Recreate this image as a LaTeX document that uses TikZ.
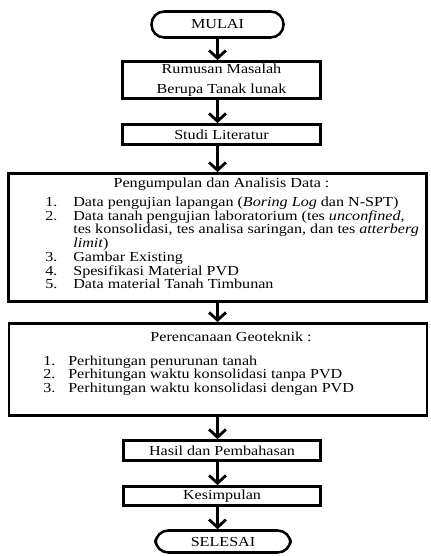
\documentclass[tikz,border=0pt]{standalone}
\usepackage{fontspec}
\setmainfont{Liberation Serif}[FakeStretch=1.17]
\usepackage{array}
\usetikzlibrary{arrows.meta}
\usetikzlibrary{positioning}
\tikzset{kotak/.style = {draw, line width=2pt, inner sep=0pt, align=center,
                         font=\fontsize{9.8}{9.7}\selectfont},
         terminal/.style = {draw, line width=1.8pt, rounded corners=0.32cm,
                            inner sep=0pt, font=\fontsize{9.8}{9.7}\selectfont},
         teks/.style = {inner sep=0pt, font=\fontsize{9.8}{9.7}\selectfont},
         panah/.style = {-{Straight Barb[length=5.5pt, width=12pt]}, line width=2pt}}

\begin{document}
\begin{tikzpicture}[x=0.025cm, y=-0.025cm]
    \useasboundingbox (0, 0) rectangle (431, 556);

    % kotak alur
    \node [terminal, minimum width=3.3cm, minimum height=0.65cm] (mulai) at (217.5, 24.5) {MULAI};
    \node [kotak, minimum width=4.95cm, minimum height=0.925cm] (rumusan) at (221.5, 80)
        {Rumusan Masalah\\[4.5pt] Berupa Tanak lunak};
    \node [kotak, minimum width=4.95cm, minimum height=0.5cm] (studi) at (221.5, 134.5) {Studi Literatur};
    \node [kotak, minimum width=10.45cm, minimum height=3.2cm] (kumpul) at (217.5, 237.5) {};
    \node [kotak, minimum width=10.45cm, minimum height=2.3cm] (rencana) at (218, 369.5) {};
    \node [kotak, minimum width=4.925cm, minimum height=0.5cm] (hasil) at (222, 450.5) {Hasil dan Pembahasan};
    \node [kotak, minimum width=4.925cm, minimum height=0.475cm] (simpul) at (222, 496) {Kesimpulan};
    \node [terminal, minimum width=3.375cm, minimum height=0.55cm] (selesai) at (223, 541.5) {SELESAI};

    % isi kotak besar
    \node [teks, anchor=base] (kumpulJudul) at (221.5, 188) {Pengumpulan dan Analisis Data :};
    \node [teks, anchor=base west] (kumpulIsi) at (45, 206.5) {%
      \begin{tabular}[t]{@{}p{0.7cm}@{}l@{}}
        1. & Data pengujian lapangan (\textit{Boring Log} dan N-SPT)\\
        2. & Data tanah pengujian laboratorium (tes \textit{unconfined},\\
           & tes konsolidasi, tes analisa saringan, dan tes \textit{atterberg}\\
           & \textit{limit})\\
        3. & Gambar Existing\\
        4. & Spesifikasi Material PVD\\
        5. & Data material Tanah Timbunan
      \end{tabular}};
    \node [teks, anchor=base] (rencanaJudul) at (231, 341) {Perencanaan Geoteknik :};
    \node [teks, anchor=base west] (rencanaIsi) at (43, 365) {%
      \begin{tabular}[t]{@{}p{0.625cm}@{}l@{}}
        1. & Perhitungan penurunan tanah\\
        2. & Perhitungan waktu konsolidasi tanpa PVD\\
        3. & Perhitungan waktu konsolidasi dengan PVD
      \end{tabular}};

    % panah
    \draw [panah] (mulai.south) -- (rumusan.north -| mulai);
    \draw [panah] (rumusan.south -| mulai) -- (studi.north -| mulai);
    \draw [panah] (studi.south -| mulai) -- (kumpul.north -| mulai);
    \draw [panah] (kumpul.south -| mulai) -- (rencana.north -| mulai);
    \draw [panah] (rencana.south -| mulai) -- (hasil.north -| mulai);
    \draw [panah] (hasil.south -| mulai) -- (simpul.north -| mulai);
    \draw [panah] (simpul.south -| mulai) -- (selesai.north -| mulai);
\end{tikzpicture}
\end{document}
